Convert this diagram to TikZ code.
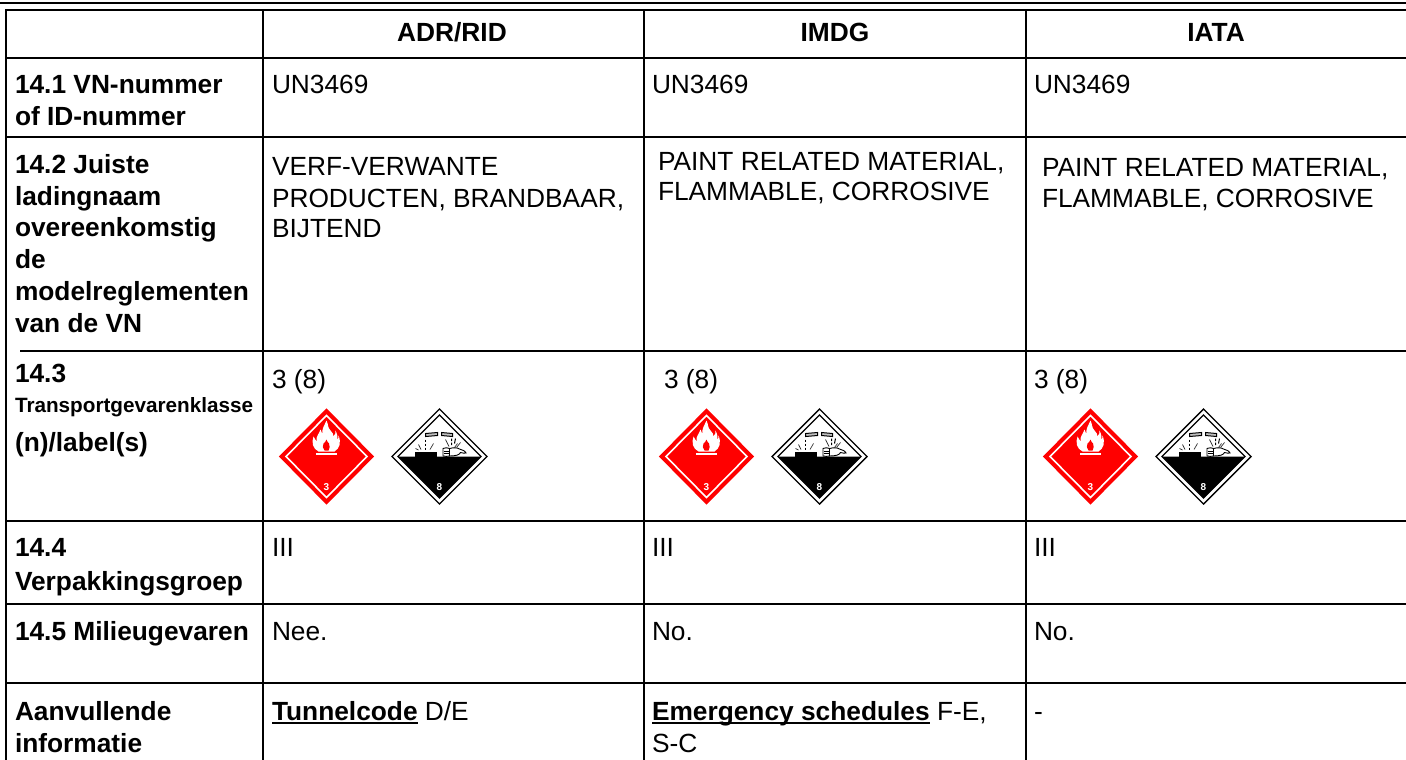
\documentclass[tikz,border=0pt]{standalone}
\usepackage{fontspec}
\setmainfont{Liberation Sans}
\newcommand{\txtsz}{\fontsize{26.3}{30}\selectfont}
\newcommand{\bul}[1]{\sbox0{\bfseries #1}\leavevmode\rlap{\rule[-3.6pt]{\wd0}{1.8pt}}\usebox0}
\tikzset{
  heavy rule/.style={line width=2.8pt,black},
  mid rule/.style={line width=2.2pt,black},
  vert rule/.style={line width=1.6pt,black},
  cell/.style={anchor=base west,inner sep=0pt,outer sep=0pt,font=\txtsz},
  bcell/.style={cell,font=\txtsz\bfseries},
  hcell/.style={anchor=base,inner sep=0pt,font=\txtsz\bfseries},
  signum/.style={inner sep=0pt,text=white,font=\fontsize{10}{10}\selectfont\bfseries},
}
\newcommand{\flamepic}[2]{%
\begin{scope}[shift={(#1,#2)}]
 \draw[red,line width=3pt,fill=red] (0,-46) -- (45.5,0) -- (0,46) -- (-45.5,0) -- cycle;
 \draw[white,line width=1.6pt] (0,-41) -- (40.5,0) -- (0,41) -- (-40.5,0) -- cycle;
 \fill[white] (0,-36) .. controls (2,-32) and (1,-29) .. (4,-26)
   .. controls (6,-24) and (7,-22) .. (7,-20)
   .. controls (9,-22) and (9,-24) .. (9,-26)
   .. controls (11,-22) and (11,-20) .. (11,-17)
   .. controls (12,-18) and (12,-19) .. (12,-21)
   .. controls (15,-14) and (13,-8) .. (8,-5)
   -- (-8,-5) .. controls (-14,-8) and (-15,-14) .. (-13,-20)
   .. controls (-12,-18) and (-12,-17) .. (-10,-15)
   .. controls (-11,-20) and (-7,-23) .. (-6,-27)
   .. controls (-5,-25) and (-5,-24) .. (-4,-22)
   .. controls (-5,-28) and (-2,-31) .. (0,-36) -- cycle;
 \fill[red] (0,-17) .. controls (.5,-15) and (1.5,-14) .. (2.5,-13) .. controls (3.5,-11) and (3.5,-8) .. (2,-6)
   -- (-2,-6) .. controls (-4,-8) and (-4,-11) .. (-3,-13) .. controls (-2,-13.5) and (-.5,-15) .. (0,-17) -- cycle;
 \fill[white] (-10.5,-3.5) rectangle (10.5,-1.5);
 \node[signum] (n3#1) at (0,31) {3};
\end{scope}}
\newcommand{\corrpic}[2]{%
\begin{scope}[shift={(#1,#2)}]
 \draw[black,line width=1.4pt] (0,-47.5) -- (47.5,0) -- (0,47.5) -- (-47.5,0) -- cycle;
 \draw[black,line width=1.3pt] (0,-41.5) -- (41.5,0) -- (0,41.5) -- (-41.5,0) -- cycle;
 \fill[black] (-41.5,0) -- (41.5,0) -- (0,41.5) -- cycle;
 % plate
 \fill[black] (-25,-5) rectangle (-3,0);
 % tubes
 \draw[black,line width=1pt,fill=black!25] (-14,-23) -- (-2,-24) -- (-2,-21) -- (-14,-20) -- cycle;
 \draw[black,line width=1pt,fill=black!25] (2,-24) -- (13,-23) -- (13,-20) -- (2,-21) -- cycle;
 % drops and rays, left
 \draw[black,line width=1.1pt] (-14,-17) -- (-14,-15) (-14,-13) -- (-14,-10.5) (-14,-9) -- (-14,-6.5);
 \draw[black!80,line width=.7pt] (-21,-12) -- (-18.5,-7) (-24,-8) -- (-21,-6.5) (-6,-13) -- (-9.5,-7);
 % drops and rays, right
 \draw[black,line width=1pt] (12,-18) -- (12,-15.5) (12,-14) -- (12,-11.5) (16,-18) -- (15,-13);
 \draw[black!80,line width=.7pt] (6,-17) -- (9.5,-10) (18,-13) -- (15,-9) (21,-14) -- (17,-9);
 % hand
 \draw[black,line width=.9pt,fill=white] (10,-8) .. controls (14,-9) and (18,-9) .. (20,-7.5)
   .. controls (23,-7) and (26,-5) .. (26.5,-3.5) .. controls (25,-3) and (23,-3.5) .. (21,-4)
   .. controls (20,-1.5) and (16,-.5) .. (10,-.5) -- cycle;
 \draw[black,line width=.9pt,fill=white] (3.5,-8) .. controls (6,-9) and (8,-9) .. (10,-8) -- (10,-.5) .. controls (8,0) and (6,0) .. (3.5,-.5) -- cycle;
 \draw[black,line width=.6pt] (4,-5.5) -- (10,-5.5) (4,-3) -- (10,-3);
 \node[signum] (n8#1) at (0,31) {8};
\end{scope}}
\begin{document}
\begin{tikzpicture}[x=1pt,y=-1pt]
\useasboundingbox (0,0) rectangle (1406,760);
\fill[white] (0,0) rectangle (1406,760);
% rules
\draw[heavy rule] (0,3) -- (1406,3);
\draw[heavy rule] (5,10) -- (1406,10);
\draw[mid rule] (5,58) -- (1406,58);
\draw[line width=2.2pt] (6,10) -- (6,760);
\draw[vert rule] (263,10) -- (263,760);
\draw[vert rule] (644,10) -- (644,760);
\draw[vert rule] (1026,10) -- (1026,760);
\draw[mid rule] (6,137) -- (1406,137);
\draw[mid rule] (20,351) -- (1406,351);
\draw[heavy rule] (6,521) -- (1406,521);
\draw[mid rule] (6,604) -- (1406,604);
\draw[mid rule] (6,683) -- (1406,683);
% header
\node[hcell] (h1) at (452,42) {ADR/RID};
\node[hcell] (h2) at (835,42) {IMDG};
\node[hcell] (h3) at (1216,42) {IATA};
% left column
\node[bcell] (a1) at (15,94) {14.1 VN-nummer};
\node[bcell] (a2) at (15,125) {of ID-nummer};
\node[bcell] (b1) at (15,173) {14.2 Juiste};
\node[bcell] (b2) at (15,205) {ladingnaam};
\node[bcell] (b3) at (15,236) {overeenkomstig};
\node[bcell] (b4) at (15,268) {de};
\node[bcell] (b5) at (15,300) {modelreglementen};
\node[bcell] (b6) at (15,332) {van de VN};
\node[bcell] (c1) at (15,382) {14.3};
\node[bcell,font=\fontsize{20.7}{24}\selectfont\bfseries] (c2) at (15,412) {Transportgevarenklasse};
\node[bcell] (c3) at (15,451) {(n)/label(s)};
\node[bcell] (d1) at (15,556) {14.4};
\node[bcell] (d2) at (15,590) {Verpakkingsgroep};
\node[bcell] (e1) at (15,640) {14.5 Milieugevaren};
\node[bcell] (f1) at (15,720) {Aanvullende};
\node[bcell] (f2) at (15,752) {informatie};
% 14.1
\node[cell] (u1) at (272,94) {UN3469};
\node[cell] (u2) at (652,94) {UN3469};
\node[cell] (u3) at (1034,94) {UN3469};
% 14.2
\node[cell] (p1) at (272,175) {VERF-VERWANTE};
\node[cell] (p2) at (272,207) {PRODUCTEN, BRANDBAAR,};
\node[cell] (p3) at (272,237) {BIJTEND};
\node[cell] (q1) at (658,170) {PAINT RELATED MATERIAL,};
\node[cell] (q2) at (658,200) {FLAMMABLE, CORROSIVE};
\node[cell] (r1) at (1042,176) {PAINT RELATED MATERIAL,};
\node[cell] (r2) at (1042,207) {FLAMMABLE, CORROSIVE};
% 14.3
\node[cell] (k1) at (272,388) {3 (8)};
\node[cell] (k2) at (664,388) {3 (8)};
\node[cell] (k3) at (1034,388) {3 (8)};
\flamepic{326.5}{456.5}
\corrpic{439.5}{456.5}
\flamepic{706.5}{456.5}
\corrpic{819.5}{456.5}
\flamepic{1090.5}{456.5}
\corrpic{1203.5}{456.5}
% 14.4
\node[cell] (g1) at (272,556) {III};
\node[cell] (g2) at (652,556) {III};
\node[cell] (g3) at (1034,556) {III};
% 14.5
\node[cell] (m1) at (272,640) {Nee.};
\node[cell] (m2) at (652,640) {No.};
\node[cell] (m3) at (1034,640) {No.};
% extra
\node[cell] (t1) at (272,720) {\bul{Tunnelcode} D/E};
\node[cell] (t2) at (652,720) {\bul{Emergency schedules} F-E,};
\node[cell] (t2b) at (652,752) {S-C};
\node[cell] (t3) at (1034,720) {-};
\end{tikzpicture}
\end{document}
